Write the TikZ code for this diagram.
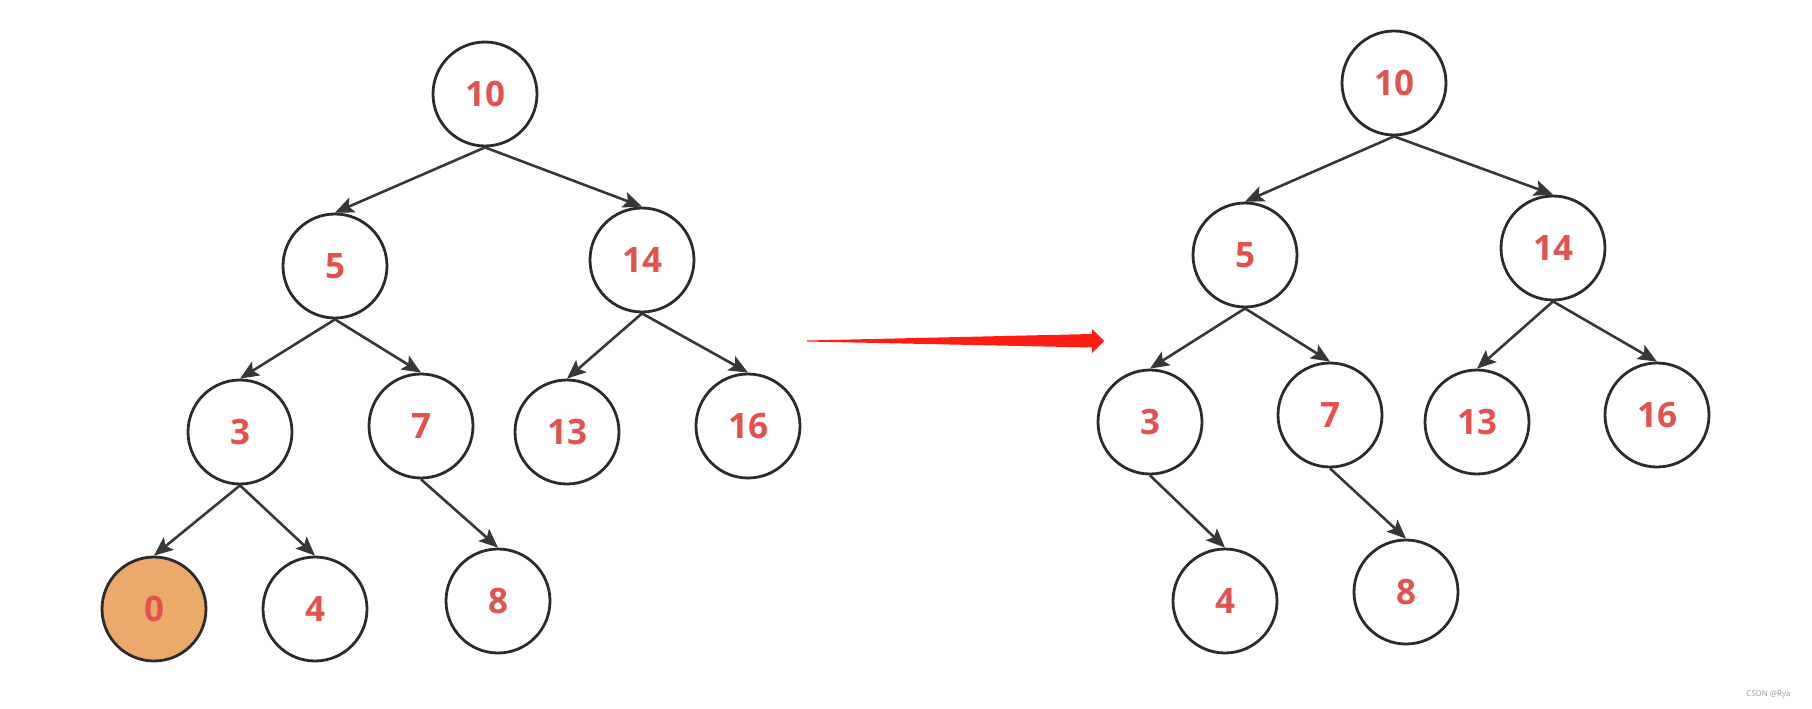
\documentclass[tikz,border=0pt]{standalone}
\usepackage{fontspec}
\setmainfont{Open Sans}
\usetikzlibrary{arrows.meta}
\definecolor{numred}{RGB}{228,82,78}
\definecolor{ringgray}{RGB}{40,44,48}
\definecolor{heapfill}{RGB}{236,170,106}
\definecolor{edgegray}{RGB}{55,55,55}
\definecolor{arrred}{RGB}{255,30,20}
\begin{document}
\begin{tikzpicture}[x=1pt,y=-1pt,
  key/.style={circle,draw=ringgray,line width=2.8pt,minimum size=104pt,inner sep=0pt,
    text=numred,font=\fontsize{35}{40}\selectfont\bfseries},
  link/.style={-{Stealth[length=19pt,width=16pt,inset=4pt]},draw=edgegray,line width=2.6pt}]
\useasboundingbox (0,0) rectangle (1812,709);
% before
\node[key] (a10) at (485,94) {10};
\node[key] (a5) at (335,266) {5};
\node[key] (a14) at (642,260) {14};
\node[key] (a3) at (240,432) {3};
\node[key] (a7) at (421,426) {7};
\node[key] (a13) at (567,432) {13};
\node[key] (a16) at (748,426) {16};
\node[key,fill=heapfill] (a0) at (154,609) {0};
\node[key] (a4) at (315,609) {4};
\node[key] (a8) at (498,601) {8};
\draw[link] (a10.south)--(a5.north);
\draw[link] (a10.south)--(a14.north);
\draw[link] (a5.south)--(a3.north);
\draw[link] (a5.south)--(a7.north);
\draw[link] (a14.south)--(a13.north);
\draw[link] (a14.south)--(a16.north);
\draw[link] (a3.south)--(a0.north);
\draw[link] (a3.south)--(a4.north);
\draw[link] (a7.south)--(a8.north);
% after
\node[key] (b10) at (1394,83) {10};
\node[key] (b5) at (1245,255) {5};
\node[key] (b14) at (1553,248) {14};
\node[key] (b3) at (1150,422) {3};
\node[key] (b7) at (1330,415) {7};
\node[key] (b13) at (1477,422) {13};
\node[key] (b16) at (1657,415) {16};
\node[key] (b4) at (1225,601) {4};
\node[key] (b8) at (1406,592) {8};
\draw[link] (b10.south)--(b5.north);
\draw[link] (b10.south)--(b14.north);
\draw[link] (b5.south)--(b3.north);
\draw[link] (b5.south)--(b7.north);
\draw[link] (b14.south)--(b13.north);
\draw[link] (b14.south)--(b16.north);
\draw[link] (b3.south)--(b4.north);
\draw[link] (b7.south)--(b8.north);
% red arrow
\fill[arrred] (807,340.5)--(1092,334)--(1092,329)--(1104,341)--(1092,353)--(1092,347.5)--(807,341.5)--cycle;
\node[text=black!40,font=\fontsize{8}{9}\selectfont,anchor=east] (mark) at (1794,695) {CSDN @Rya};
\end{tikzpicture}
\end{document}
